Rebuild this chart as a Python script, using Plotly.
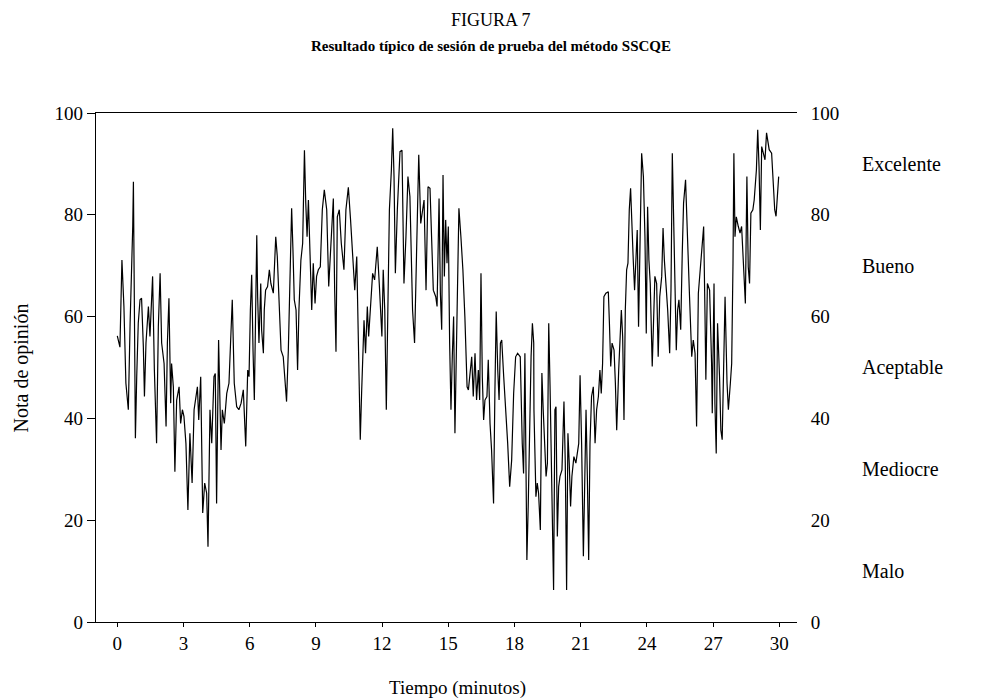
import plotly.graph_objects as go

# Time (minutes) and opinion score
tiempo = [
    0.00, 0.12, 0.21, 0.30, 0.39, 0.50, 0.58, 0.65, 0.70, 0.73, 0.79, 0.82, 0.88, 0.95, 1.03, 1.10, 1.18, 1.23, 1.30, 1.41,
    1.48, 1.60, 1.68, 1.78, 1.86, 1.94, 2.01, 2.12, 2.21, 2.27, 2.34, 2.42, 2.46, 2.54, 2.61, 2.69, 2.80, 2.87, 2.95, 3.02,
    3.11, 3.20, 3.29, 3.39, 3.48, 3.57, 3.63, 3.69, 3.78, 3.87, 3.96, 4.05, 4.11, 4.20, 4.28, 4.38, 4.44, 4.50, 4.59,
    4.70, 4.76, 4.85, 4.96, 5.06, 5.15, 5.21, 5.30, 5.41, 5.51, 5.61, 5.71, 5.82, 5.91, 5.97, 6.03, 6.09, 6.15, 6.21, 6.27,
    6.32, 6.36, 6.42, 6.50, 6.54, 6.62, 6.66, 6.72, 6.81, 6.89, 6.96, 7.07, 7.18, 7.25, 7.33, 7.42, 7.52, 7.60, 7.67, 7.75,
    7.83, 7.90, 7.96, 8.02, 8.10, 8.17, 8.23, 8.32, 8.40, 8.48, 8.54, 8.60, 8.66, 8.72, 8.81, 8.88, 8.96, 9.03, 9.11, 9.20,
    9.29, 9.38,
    9.49, 9.58, 9.67, 9.79, 9.85, 9.91, 9.97, 10.06, 10.15, 10.27, 10.36, 10.47, 10.57, 10.67, 10.76, 10.85, 10.91, 10.97,
    11.01, 11.07, 11.18, 11.25, 11.33, 11.39, 11.48, 11.57, 11.66, 11.78, 11.87, 11.99, 12.05, 12.12, 12.19, 12.27, 12.33,
    12.42, 12.48, 12.54, 12.60, 12.69, 12.81, 12.90, 12.99, 13.08, 13.17, 13.26, 13.38, 13.47, 13.57, 13.66, 13.75, 13.84,
    13.90, 13.99, 14.08,
    14.17, 14.24, 14.32, 14.43, 14.49, 14.58, 14.64, 14.70, 14.76, 14.82, 14.88, 14.94, 15.00, 15.06, 15.12, 15.18, 15.24,
    15.30, 15.36, 15.42, 15.48, 15.57, 15.66, 15.75, 15.85, 15.91, 15.98, 16.06, 16.13, 16.21, 16.28, 16.36, 16.42, 16.48,
    16.54, 16.60, 16.66, 16.75, 16.81, 16.89, 16.96, 17.05, 17.11, 17.17, 17.24, 17.30, 17.36, 17.42, 17.51, 17.60, 17.69,
    17.78, 17.87, 17.96, 18.05, 18.14, 18.26, 18.35, 18.41, 18.47, 18.52, 18.56, 18.62, 18.69, 18.75, 18.81, 18.87,
    18.88, 18.97, 19.03, 19.09, 19.17, 19.24, 19.30, 19.37, 19.43, 19.49, 19.55, 19.61, 19.67, 19.73, 19.77, 19.83, 19.88,
    19.94, 20.00, 20.06, 20.15, 20.24, 20.30, 20.36, 20.42, 20.48, 20.54, 20.60, 20.69, 20.78, 20.85, 20.91, 20.97, 21.04,
    21.12, 21.18, 21.24, 21.30, 21.36, 21.42, 21.49, 21.57, 21.65, 21.72, 21.80, 21.87, 21.93, 21.99, 22.05, 22.14, 22.25,
    22.30, 22.36, 22.42, 22.51, 22.57, 22.63, 22.72, 22.78, 22.84, 22.90, 22.96, 23.02, 23.08, 23.14, 23.20, 23.26, 23.32,
    23.38, 23.44, 23.50, 23.56, 23.62, 23.68,
    23.70, 23.76, 23.84, 23.91, 23.97, 24.03, 24.09, 24.15, 24.24, 24.30, 24.36, 24.44, 24.51, 24.58, 24.67, 24.73, 24.79,
    24.88, 24.94, 25.03, 25.09, 25.15, 25.21, 25.27, 25.33, 25.39, 25.45, 25.53, 25.60, 25.66, 25.75, 25.84, 25.93, 26.03,
    26.10, 26.18, 26.25, 26.33, 26.42, 26.48, 26.57, 26.63, 26.67, 26.74, 26.84, 26.93, 26.96, 27.04, 27.08, 27.14, 27.20,
    27.29, 27.35, 27.41, 27.48, 27.54, 27.63, 27.69, 27.78, 27.84, 27.90, 27.94, 27.99, 28.05, 28.14, 28.22, 28.29, 28.38,
    28.46, 28.53, 28.59, 28.65, 28.71, 28.80, 28.86, 28.96, 29.02, 29.08, 29.14, 29.20, 29.27, 29.35,
    29.42, 29.54, 29.65, 29.73, 29.79, 29.85, 29.91, 29.97,
]

nota = [
    56.2, 54.0, 71.1, 62.0, 46.9, 41.7, 58.7, 67.9, 77.7, 86.5, 61.3, 36.1, 48.2, 58.7, 63.3, 63.6, 54.1, 44.3, 54.8, 62.0,
    56.1, 67.9, 49.5, 35.1, 58.0, 68.5, 54.8, 50.8, 38.4, 54.8, 63.6, 43.0, 50.8, 46.2, 29.5, 43.6, 46.2, 39.0, 41.7, 40.4,
    35.1, 22.0, 37.1, 27.3, 41.7, 44.9, 46.2, 39.7, 48.2, 21.4, 27.3, 25.3, 14.8, 41.7, 35.1, 48.2, 48.8, 23.3, 55.4,
    33.8, 41.7, 39.0, 44.9, 46.9, 58.0, 63.3, 46.9, 42.3, 41.7, 43.0, 45.6, 34.5, 49.5, 48.2, 61.3, 68.2, 53.4, 43.6, 61.3,
    76.0, 63.9, 54.8, 66.5, 57.4, 52.8, 61.3, 65.2, 65.9, 69.2, 66.5, 64.6, 75.7, 71.8, 61.3, 53.4, 52.1, 48.2, 43.3, 53.4,
    66.5, 81.3, 73.1, 63.3, 61.3, 49.5, 61.3, 71.1, 74.4, 92.7, 82.3, 75.7, 82.9, 73.1, 61.3, 70.5, 62.6, 67.9, 69.2, 69.8,
    81.0, 84.9,
    81.0, 65.9, 74.4, 83.2, 65.2, 53.1, 79.6, 81.0, 74.4, 69.2, 81.0, 85.4, 79.0, 71.1, 65.2, 71.8, 60.0, 46.9,
    35.8, 44.9, 59.3, 52.8, 62.0, 56.1, 63.3, 68.5, 67.2, 73.7, 66.5, 56.1, 69.2, 61.3, 41.7, 61.3, 81.0,
    88.8, 97.0, 87.5, 68.5, 81.0, 92.4, 92.7, 66.5, 75.7, 87.5, 83.6, 61.3, 54.8, 74.4, 91.8, 78.3, 81.0,
    82.9, 65.2, 85.5,
    85.2, 74.4, 65.2, 63.9, 62.0, 83.2, 64.6, 57.4, 87.8, 67.9, 79.0, 70.5, 77.7, 54.8, 41.7, 52.1, 60.0,
    37.1, 54.1, 62.6, 81.3, 75.7, 69.2, 60.0, 46.2, 45.6, 49.5, 52.1, 44.3, 52.8, 43.6, 49.5, 43.6, 68.5,
    48.2, 39.7, 43.6, 44.3, 51.5, 39.0, 33.8, 23.3, 44.9, 61.0, 49.5, 43.6, 54.8, 55.4, 48.2, 42.3, 35.1,
    26.6, 31.8, 44.9, 52.1, 52.8, 52.1, 35.1, 29.2, 52.8, 28.6, 12.2, 22.7, 41.7, 52.1, 58.7, 54.8,
    41.7, 24.6, 27.3, 25.3, 18.1, 48.9, 41.7, 35.1, 28.6, 31.2, 58.7, 46.2, 27.3, 17.4, 6.3, 41.7, 42.3,
    16.8, 26.6, 28.6, 29.9, 43.3, 31.2, 6.3, 37.1, 31.2, 22.7, 28.6, 32.5, 31.2, 33.2, 35.1, 48.5, 35.1,
    12.9, 25.3, 41.7, 28.6, 12.2, 35.1, 44.3, 46.2, 35.1, 41.7, 44.3, 49.5, 44.9, 50.8, 63.9, 64.6, 64.9,
    58.7, 50.2, 54.8, 53.4, 46.9, 37.7, 49.5, 57.4, 61.3, 56.1, 39.7, 61.3, 69.2, 70.5, 81.0, 85.2, 75.7,
    71.1, 65.2, 71.8, 77.0, 58.0, 74.4,
    77.7, 92.1, 87.5, 75.7, 56.7, 81.6, 71.1, 66.5, 50.2, 61.3, 67.9, 66.5, 52.1, 63.9, 67.9, 77.4, 71.1,
    65.2, 61.3, 52.8, 65.2, 92.1, 74.4, 66.5, 53.4, 61.3, 63.3, 57.4, 72.4, 82.3, 86.9, 77.0, 63.9, 52.1,
    55.4, 52.8, 38.4, 64.6, 69.2, 71.8, 77.7, 60.6, 47.6, 66.5, 65.2, 50.8, 41.0, 66.5, 43.0, 33.1, 58.7,
    48.2, 37.7, 35.8, 54.8, 63.9, 46.9, 41.7, 46.9, 50.8, 70.5, 92.1, 75.7, 79.6, 77.7, 76.4, 77.7, 67.9,
    62.6, 87.5, 69.8, 66.5, 80.3, 81.0, 82.9, 88.8, 96.7, 89.5, 77.0, 93.4, 92.1, 90.8,
    96.1, 92.8, 92.1, 85.6, 81.0, 79.7, 83.0, 87.5,
]

x_ticks = [0, 3, 6, 9, 12, 15, 18, 21, 24, 27, 30]
y_ticks = [0, 20, 40, 60, 80, 100]
calif_labels = ["Excelente", "Bueno", "Aceptable", "Mediocre", "Malo"]
calif_pos = [90, 70, 50, 30, 10]

FONT = "Liberation Serif"

fig = go.Figure()
fig.add_trace(go.Scatter(x=tiempo, y=nota, mode="lines",
                         line=dict(color="black", width=1.2),
                         showlegend=False, hoverinfo="skip"))
# invisible trace to activate the right axis
fig.add_trace(go.Scatter(x=[tiempo[0]], y=[nota[0]], yaxis="y2", mode="markers",
                         marker=dict(opacity=0), showlegend=False, hoverinfo="skip"))

fig.update_layout(
    width=981, height=700,
    margin=dict(l=96, r=184, t=113, b=78),
    paper_bgcolor="white", plot_bgcolor="white",
    font=dict(family=FONT, size=18, color="black"),
    xaxis=dict(range=[-0.965, 30.80], tickvals=x_ticks, ticks="outside", ticklen=4,
               tickwidth=1, tickcolor="black", showline=True, linecolor="black",
               linewidth=1.2, mirror=True, showgrid=False, zeroline=False,
               tickfont=dict(family=FONT, size=19)),
    yaxis=dict(range=[0, 100], tickvals=y_ticks, ticks="outside", ticklen=8,
               tickwidth=1, tickcolor="black", showline=True, linecolor="black",
               linewidth=1.2, showgrid=False, zeroline=False,
               tickfont=dict(family=FONT, size=19)),
    yaxis2=dict(range=[0, 100], tickvals=y_ticks, overlaying="y", side="right",
                ticks="outside", ticklen=9, tickcolor="rgba(0,0,0,0)",
                showline=False, showgrid=False, zeroline=False,
                tickfont=dict(family=FONT, size=19)),
)

for lab, pos in zip(calif_labels, calif_pos):
    fig.add_annotation(text=lab, x=1.0899, xref="paper", xanchor="left",
                       y=pos, yref="y", yanchor="middle", showarrow=False,
                       font=dict(family=FONT, size=20))

fig.add_annotation(text="FIGURA 7", x=0.5628, xref="paper", xanchor="center",
                   y=1.183, yref="paper", yanchor="middle", showarrow=False,
                   font=dict(family=FONT, size=18))
fig.add_annotation(text="<b>Resultado típico de sesión de prueba del método SSCQE</b>",
                   x=0.5628, xref="paper", xanchor="center",
                   y=1.132, yref="paper", yanchor="middle", showarrow=False,
                   font=dict(family=FONT, size=15))
fig.add_annotation(text="Nota de opinión", x=-0.1056, xref="paper", xanchor="center",
                   y=0.5, yref="paper", yanchor="middle", textangle=-90,
                   showarrow=False, font=dict(family=FONT, size=20))
fig.add_annotation(text="Tiempo (minutos)", x=0.516, xref="paper", xanchor="center",
                   y=-0.130, yref="paper", yanchor="middle", showarrow=False,
                   font=dict(family=FONT, size=19))

fig.write_html("out.html", config={"displayModeBar": False},
               post_script="document.body.style.margin='0';")
